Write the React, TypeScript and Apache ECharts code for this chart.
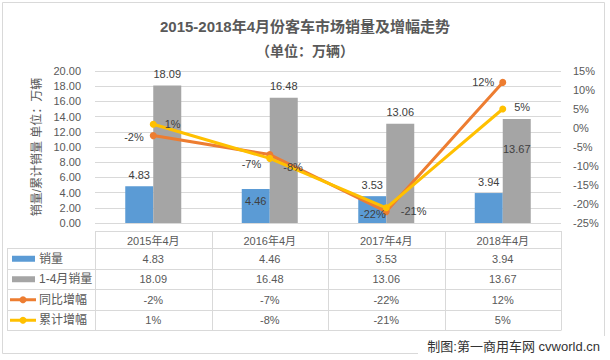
import React, { useEffect, useRef } from 'react';
import * as echarts from 'echarts';

const categories = ['2015年4月', '2016年4月', '2017年4月', '2018年4月'];
const seriesNames = ['销量', '1-4月销量', '同比增幅', '累计增幅'];
const monthSales = [4.83, 4.46, 3.53, 3.94];
const ytdSales = [18.09, 16.48, 13.06, 13.67];
const yoyGrowth = [-2, -7, -22, 12];
const ytdGrowth = [1, -8, -21, 5];

const COLORS = ['#5B9BD5', '#A5A5A5', '#ED7D31', '#FFC000'];
const FONT = "'Liberation Sans', 'Noto Sans CJK SC', sans-serif";
const CJK_FONT = "'Noto Sans CJK SC', sans-serif";
const AXIS_TXT = '#595959';
const LABEL_TXT = '#404040';
const GRID_LINE = '#D9D9D9';

// per-item label placement
const monthLabelPos: any[] = [
  { position: 'top', offset: [0, 0] },
  { position: 'insideTop', offset: [0, 0] },
  { position: 'top', offset: [0, 0] },
  { position: 'top', offset: [0, 0] },
];
const ytdLabelPos: any[] = [
  { position: 'top', offset: [0, 0] },
  { position: 'top', offset: [0, 0] },
  { position: 'top', offset: [0, 0] },
  { position: 'insideTop', offset: [0, 18] },
];
const yoyLabelPos: any[] = [
  { position: 'left', distance: 6, offset: [0, 1] },
  { position: 'left', distance: 5, offset: [0, 9] },
  { position: 'left', distance: 0, offset: [3, 2] },
  { position: 'left', distance: 5, offset: [0, 0] },
];
const ytdGLabelPos: any[] = [
  { position: 'right', distance: 8, offset: [0, 0] },
  { position: 'right', distance: 5, offset: [5, 9] },
  { position: 'right', distance: 5, offset: [6, 3] },
  { position: 'right', distance: 8, offset: [0, -2] },
];

export default function App() {
  const ref = useRef<HTMLDivElement>(null);
  useEffect(() => {
    document.body.style.margin = '0';
    const chart = echarts.init(ref.current!, null, { renderer: 'svg' });
    const gridLeft = 95;
    const gridRight = 561;
    const gridTop = 71;
    const gridBottom = 223;
    const option: any = {
      animation: false,
      textStyle: { fontFamily: FONT },
      title: {
        text: '{a|2015-2018年4月份客车市场销量及增幅走势}\n{b|（单位：万辆）}',
        left: 'center',
        top: 10,
        textStyle: {
          fontFamily: FONT,
          fontSize: 15,
          fontWeight: 'bold',
          color: AXIS_TXT,
          lineHeight: 23,
          rich: {
            a: { fontFamily: FONT, fontSize: 15, fontWeight: 'bold', color: AXIS_TXT, lineHeight: 23 },
            b: { fontFamily: CJK_FONT, fontSize: 14, fontWeight: 'bold', color: AXIS_TXT, lineHeight: 23 },
          },
        },
      },
      grid: {
        left: gridLeft,
        right: 610 - gridRight,
        top: gridTop,
        bottom: 360 - gridBottom,
        containLabel: false,
      },
      xAxis: {
        type: 'category',
        data: categories,
        axisLine: { show: false },
        axisTick: { show: false },
        axisLabel: { show: false },
      },
      yAxis: [
        {
          type: 'value',
          min: 0,
          max: 20,
          interval: 2,
          name: '销量/累计销量 单位：万辆',
          nameLocation: 'middle',
          nameRotate: 90,
          nameGap: 49,
          nameTextStyle: { color: AXIS_TXT, fontSize: 12, fontFamily: FONT },
          axisLine: { show: false },
          axisTick: { show: false },
          axisLabel: {
            color: AXIS_TXT,
            fontSize: 11,
            margin: 14,
            formatter: (v: number) => v.toFixed(2),
          },
          splitLine: { lineStyle: { color: GRID_LINE, width: 1 } },
        },
        {
          type: 'value',
          min: -25,
          max: 15,
          interval: 5,
          position: 'right',
          axisLine: { show: false },
          axisTick: { show: false },
          axisLabel: {
            color: AXIS_TXT,
            fontSize: 11,
            margin: 12,
            formatter: (v: number) => `${v}%`,
          },
          splitLine: { show: false },
        },
      ],
      series: [
        {
          name: seriesNames[0],
          type: 'bar',
          barWidth: 28,
          barGap: '0%',
          itemStyle: { color: COLORS[0] },
          data: monthSales.map((v, i) => ({
            value: v,
            label: { show: true, ...monthLabelPos[i] },
          })),
          label: {
            show: true,
            color: LABEL_TXT,
            fontSize: 11,
            distance: 6,
            formatter: (p: any) => Number(p.value).toFixed(2),
          },
          z: 2,
        },
        {
          name: seriesNames[1],
          type: 'bar',
          barWidth: 28,
          barGap: '0%',
          itemStyle: { color: COLORS[1] },
          data: ytdSales.map((v, i) => ({
            value: v,
            label: { show: true, ...ytdLabelPos[i] },
          })),
          label: {
            show: true,
            color: LABEL_TXT,
            fontSize: 11,
            distance: 6,
            formatter: (p: any) => Number(p.value).toFixed(2),
          },
          z: 2,
        },
        {
          name: seriesNames[2],
          type: 'line',
          yAxisIndex: 1,
          symbol: 'circle',
          symbolSize: 7,
          lineStyle: { color: COLORS[2], width: 3 },
          itemStyle: { color: COLORS[2] },
          data: yoyGrowth.map((v, i) => ({
            value: v,
            label: { show: true, ...yoyLabelPos[i] },
          })),
          label: {
            show: true,
            color: LABEL_TXT,
            fontSize: 11,
            formatter: (p: any) => `${p.value}%`,
          },
          z: 5,
        },
        {
          name: seriesNames[3],
          type: 'line',
          yAxisIndex: 1,
          symbol: 'circle',
          symbolSize: 7,
          lineStyle: { color: COLORS[3], width: 3 },
          itemStyle: { color: COLORS[3] },
          data: ytdGrowth.map((v, i) => ({
            value: v,
            label: { show: true, ...ytdGLabelPos[i] },
          })),
          label: {
            show: true,
            color: LABEL_TXT,
            fontSize: 11,
            formatter: (p: any) => `${p.value}%`,
          },
          z: 6,
        },
      ],
    };
    chart.setOption(option);

    // ---- data table under the plot ----
    const catW = (gridRight - gridLeft) / categories.length;
    const centers = categories.map((c, i) => {
      const px = chart.convertToPixel({ xAxisIndex: 0 }, c as any) as any;
      return typeof px === 'number' && isFinite(px) ? px : gridLeft + (i + 0.5) * catW;
    });
    const tableLeft = 7;
    const headTop = 231;
    const headBottom = 248;
    const rowH = 20.5;
    const rowYs = [0, 1, 2, 3, 4].map((k) => headBottom + k * rowH);
    const lineStyle = { stroke: GRID_LINE, lineWidth: 1 };
    const els: any[] = [];
    // chart border
    els.push({
      type: 'rect',
      shape: { x: 2.5, y: 2.5, width: 602, height: 351 },
      style: { fill: 'none', stroke: GRID_LINE, lineWidth: 1 },
      z: 0,
      silent: true,
    });
    // horizontal lines
    els.push({
      type: 'line',
      shape: { x1: gridLeft, y1: headTop + 0.5, x2: gridRight, y2: headTop + 0.5 },
      style: lineStyle,
    });
    rowYs.forEach((y) => {
      els.push({
        type: 'line',
        shape: { x1: tableLeft, y1: Math.round(y) + 0.5, x2: gridRight, y2: Math.round(y) + 0.5 },
        style: lineStyle,
      });
    });
    // vertical lines
    els.push({
      type: 'line',
      shape: { x1: tableLeft + 0.5, y1: headBottom, x2: tableLeft + 0.5, y2: rowYs[4] + 0.5 },
      style: lineStyle,
    });
    for (let k = 0; k <= categories.length; k++) {
      const x = Math.round(gridLeft + k * catW) + 0.5;
      els.push({
        type: 'line',
        shape: { x1: x, y1: headTop, x2: x, y2: rowYs[4] + 0.5 },
        style: lineStyle,
      });
    }
    // header labels
    categories.forEach((c, i) => {
      els.push({
        type: 'text',
        x: centers[i],
        y: (headTop + headBottom) / 2 + 1,
        style: {
          text: c,
          fill: AXIS_TXT,
          font: `11px ${FONT}`,
          align: 'center',
          verticalAlign: 'middle',
        },
      });
    });
    const rows = [
      monthSales.map((v) => v.toFixed(2)),
      ytdSales.map((v) => v.toFixed(2)),
      yoyGrowth.map((v) => `${v}%`),
      ytdGrowth.map((v) => `${v}%`),
    ];
    rows.forEach((vals, r) => {
      const cy = rowYs[r] + rowH / 2 + 0.5;
      // legend key
      if (r < 2) {
        els.push({
          type: 'rect',
          shape: { x: 12, y: cy - 3, width: 23, height: 6 },
          style: { fill: COLORS[r] },
        });
      } else {
        els.push({
          type: 'line',
          shape: { x1: 10, y1: cy, x2: 36, y2: cy },
          style: { stroke: COLORS[r], lineWidth: 3 },
        });
        els.push({
          type: 'circle',
          shape: { cx: 23, cy, r: 3.5 },
          style: { fill: COLORS[r] },
        });
      }
      els.push({
        type: 'text',
        x: 39,
        y: cy,
        style: {
          text: seriesNames[r],
          fill: AXIS_TXT,
          font: `12px ${FONT}`,
          align: 'left',
          verticalAlign: 'middle',
        },
      });
      vals.forEach((t, i) => {
        els.push({
          type: 'text',
          x: centers[i],
          y: cy,
          style: {
            text: t,
            fill: AXIS_TXT,
            font: `11px ${FONT}`,
            align: 'center',
            verticalAlign: 'middle',
          },
        });
      });
    });
    // footer credit with white backing
    els.push({
      type: 'rect',
      shape: { x: 418, y: 336, width: 192, height: 24 },
      style: { fill: '#ffffff' },
      z: 10,
    });
    els.push({
      type: 'text',
      x: 600,
      y: 346,
      z: 11,
      style: {
        text: '制图:第一商用车网 cvworld.cn',
        fill: '#333333',
        font: `13px ${FONT}`,
        align: 'right',
        verticalAlign: 'middle',
      },
    });
    chart.setOption({ graphic: { elements: els } });
    return () => chart.dispose();
  }, []);
  return <div ref={ref} style={{ width: 610, height: 360 }} />;
}
